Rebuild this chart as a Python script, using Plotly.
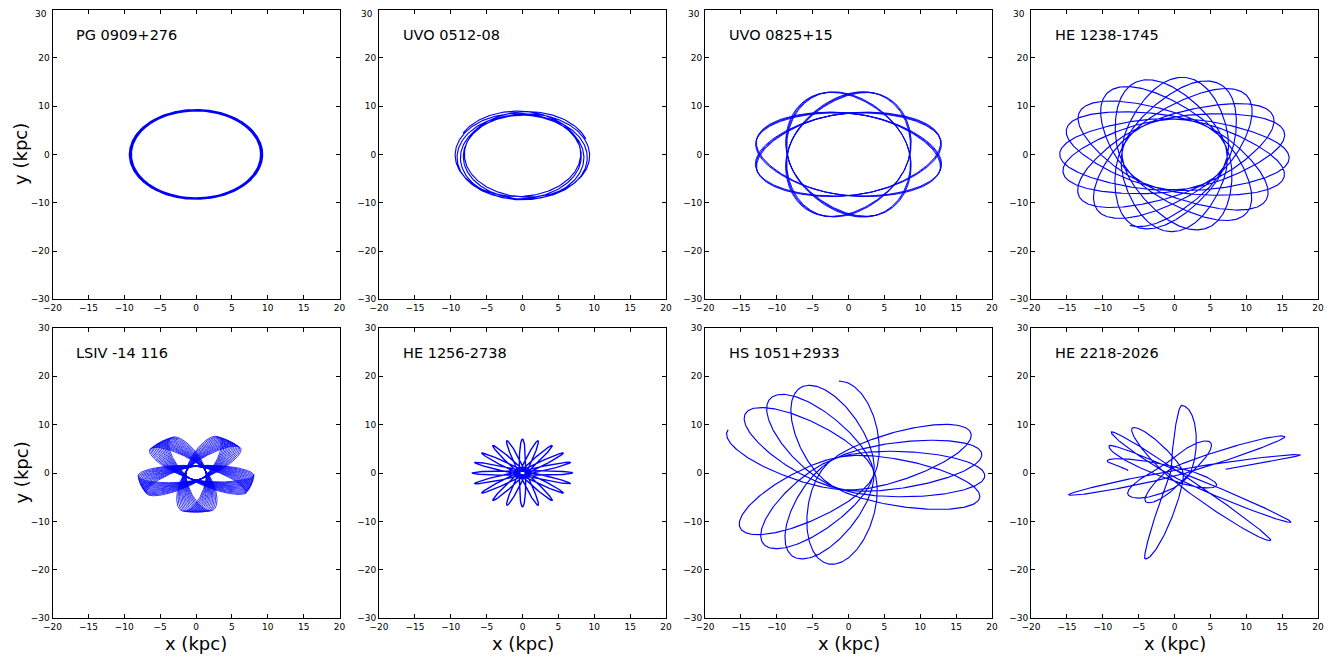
import numpy as np
import plotly.graph_objects as go

# ---------------- data ----------------
star_names = ["PG 0909+276", "UVO 0512-08", "UVO 0825+15", "HE 1238-1745",
              "LSIV -14 116", "HE 1256-2738", "HS 1051+2933", "HE 2218-2026"]

x_ticks = [-20, -15, -10, -5, 0, 5, 10, 15, 20]
y_ticks = [-30, -20, -10, 0, 10, 20, 30]
x_range = [-20, 20]
y_range = [-30, 30]

# regular rosette orbits (kpc, degrees); k = angular-speed concentration at pericentre
rosette_stars = ["PG 0909+276", "UVO 0512-08", "HE 1238-1745",
                 "LSIV -14 116", "HE 1256-2738", "HS 1051+2933"]
rosette_rperi = [9.0, 8.1, 7.3, 1.4, 0.45, 3.5]
rosette_rapo = [9.3, 9.4, 16.0, 8.1, 7.0, 19.0]
rosette_apsidal = [203.0, 322.0, 198.3, 216.43, 198.0, 235.17]
rosette_nhalf = [48, 12, 41, 140, 40, 24]
rosette_phi0 = [0.0, 20.0, 247.0, -32.0, 0.0, 152.0]
rosette_k = [1.9, 1.15, 1.9, 1.3, 1.5, 1.3]
rosette_width = [1.15, 1.15, 1.15, 0.8, 1.4, 1.15]

# UVO 0825+15: elongated loops grouped in four orientations
uvo_rapo = 13.2
uvo_rperi = 8.4
uvo_orient = [-17.5, 12.5, 72.5, 102.5]
uvo_apsidal = 180.7
uvo_nhalf = 14
uvo_width = 0.9

# HE 2218-2026: irregular orbit, successive turning points (angle deg, radius kpc)
he2218_angle = [176, 165, 70, -24, -118, -212, -302, -392, -488, -584, -675, -766,
                -862, -958, -1070, -1183, -1268, -1354, -1469, -1584, -1665, -1747,
                -1835, -1923, -2028, -2134, -2228, -2323, -2415, -2508, -2514]
he2218_radius = [6.5, 9.7, 1.2, 6.4, 1.5, 10.7, 0.5, 19.1, 0.7, 12.2, 0.5, 19.3,
                 1.1, 11.0, 1.2, 18.2, 0.5, 14.0, 2.0, 7.9, 2.2, 8.1, 1.8, 7.2,
                 1.0, 17.1, 0.6, 15.4, 0.5, 17.9, 7.2]
he2218_k = 1.35


# ---------------- orbit drawing helpers ----------------
def orbit_from_turning_points(angles_deg, radii, k, npts=90):
    angs = np.radians(np.asarray(angles_deg, float))
    rs = np.asarray(radii, float)
    u = np.linspace(0, np.pi, npts)
    s = (1 - np.cos(u)) / 2
    xs, ys = [], []
    for i in range(len(rs) - 1):
        r = rs[i] + (rs[i + 1] - rs[i]) * s
        w = r ** (-k)
        W = np.concatenate([[0.0], np.cumsum((w[1:] + w[:-1]) / 2 * np.diff(u))])
        phi = angs[i] + (angs[i + 1] - angs[i]) * W / W[-1]
        if i > 0:
            r, phi = r[1:], phi[1:]
        xs.append(r * np.cos(phi))
        ys.append(r * np.sin(phi))
    return np.concatenate(xs), np.concatenate(ys)


def rosette(rp, ra, dphi, nhalf, phi0, k):
    j = np.arange(nhalf + 1)
    angles = phi0 + j * dphi / 2.0
    radii = np.where(j % 2 == 0, ra, rp)
    return orbit_from_turning_points(angles, radii, k)


orbits, widths = {}, {}
for i, nm in enumerate(rosette_stars):
    orbits[nm] = rosette(rosette_rperi[i], rosette_rapo[i], rosette_apsidal[i],
                         rosette_nhalf[i], rosette_phi0[i], rosette_k[i])
    widths[nm] = rosette_width[i]

ux, uy = [], []
for th in uvo_orient:
    x, y = rosette(uvo_rperi, uvo_rapo, uvo_apsidal, uvo_nhalf, th, 2.0)
    ux += list(x) + [np.nan]
    uy += list(y) + [np.nan]
orbits["UVO 0825+15"] = (np.array(ux), np.array(uy))
widths["UVO 0825+15"] = uvo_width
orbits["HE 2218-2026"] = orbit_from_turning_points(he2218_angle, he2218_radius, he2218_k)


def tick_text(v):
    return ("\u2212" + str(-v)) if v < 0 else str(v)


# ---------------- figure ----------------
# page layout in window pixels; the page body adds an 8 px offset
OFF = 8
W, H = 1341 - OFF, 658 - OFF
col_left = [52.5 - OFF, 379.0 - OFF, 705.0 - OFF, 1031.0 - OFF]
panel_w = 287.0
row_top = [9.5 - OFF, 327.7 - OFF]
row_bot = [299.3 - OFF, 618.3 - OFF]

fig = go.Figure()
font_family = "DejaVu Sans, Verdana, sans-serif"
tick_font = dict(family=font_family, size=9, color="black")

for idx, nm in enumerate(star_names):
    row, col = divmod(idx, 4)
    n = idx + 1
    xa = "x" if n == 1 else f"x{n}"
    ya = "y" if n == 1 else f"y{n}"
    x, y = orbits[nm]
    fig.add_trace(go.Scatter(x=x, y=y, mode="lines", xaxis=xa, yaxis=ya,
                             line=dict(color="#0000ff", width=widths.get(nm, 1.15)),
                             showlegend=False, hoverinfo="skip"))
    axis_common = dict(showgrid=False, zeroline=False, showline=True,
                       linecolor="black", linewidth=1, mirror="allticks",
                       ticks="inside", ticklen=4, tickwidth=1, tickcolor="black",
                       tickfont=tick_font, ticklabeloverflow="allow",
                       fixedrange=True, automargin=False)
    fig.layout[("xaxis" if n == 1 else f"xaxis{n}")] = dict(
        axis_common, domain=[col_left[col] / W, (col_left[col] + panel_w) / W],
        range=x_range, tickvals=x_ticks, anchor=ya)
    # top row: the topmost label would be clipped at the page edge; it is drawn below instead
    ylabels = [tick_text(v) if not (row == 0 and v == y_ticks[-1]) else "" for v in y_ticks]
    fig.layout[("yaxis" if n == 1 else f"yaxis{n}")] = dict(
        axis_common, domain=[1 - row_bot[row] / H, 1 - row_top[row] / H],
        range=y_range, tickvals=y_ticks, ticktext=ylabels, anchor=xa)
    if row == 0:
        fig.add_annotation(x=(col_left[col] - 4.5) / W, y=1, xref="paper", yref="paper",
                           text=tick_text(y_ticks[-1]), showarrow=False, borderpad=0,
                           xanchor="right", yanchor="top", font=tick_font)
    fig.add_annotation(x=-17, y=24.7, xref=xa, yref=ya, text=nm, showarrow=False,
                       xanchor="left", yanchor="middle",
                       font=dict(family=font_family, size=14.5, color="black"))

for col in range(4):
    fig.add_annotation(x=(col_left[col] + panel_w / 2) / W, y=1 - (643 - OFF) / H,
                       xref="paper", yref="paper", text="x (kpc)", showarrow=False,
                       xanchor="center", yanchor="middle",
                       font=dict(family=font_family, size=18, color="black"))
for row in range(2):
    fig.add_annotation(x=0, y=1 - (row_top[row] + row_bot[row]) / 2 / H,
                       xref="paper", yref="paper", text="y (kpc)", showarrow=False,
                       textangle=-90, xanchor="left", yanchor="middle",
                       font=dict(family=font_family, size=18, color="black"))

fig.update_layout(width=W, height=H, margin=dict(l=0, r=0, t=0, b=0, pad=0, autoexpand=False),
                  paper_bgcolor="white", plot_bgcolor="white")

fig.write_html("out.html")
